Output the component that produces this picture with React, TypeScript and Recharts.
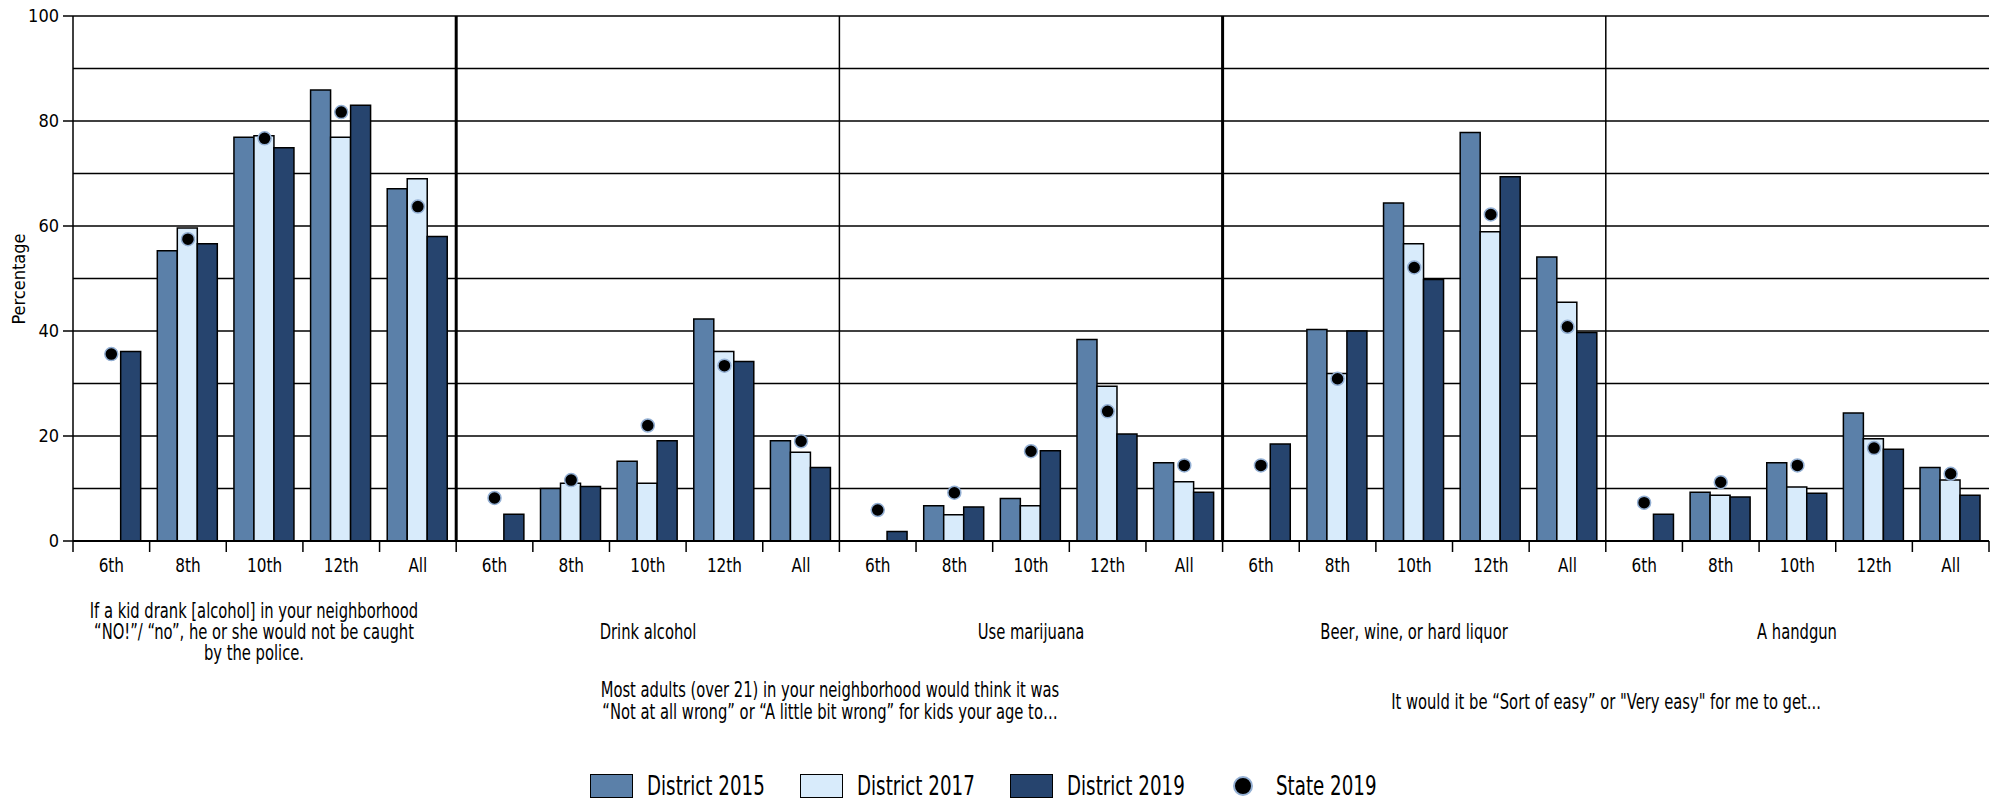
import React from "react";
import { ComposedChart, Bar, Line, XAxis, YAxis, CartesianGrid, ReferenceLine } from "recharts";

const FONT = '"Liberation Sans Narrow", "DejaVu Sans Condensed", "Arial Narrow", sans-serif';

const grades = ["6th", "8th", "10th", "12th", "All"];

// five panels of five grades each, read left to right
const district2015 = [
  null, 55.3, 76.9, 85.9, 67.1,
  null, 10.0, 15.2, 42.3, 19.1,
  null, 6.7, 8.1, 38.4, 14.9,
  null, 40.3, 64.4, 77.8, 54.1,
  null, 9.3, 14.9, 24.4, 14.0,
];
const district2017 = [
  null, 59.6, 77.2, 76.9, 69.0,
  null, 11.0, 11.0, 36.1, 16.9,
  null, 5.0, 6.7, 29.5, 11.3,
  null, 31.9, 56.6, 58.9, 45.5,
  null, 8.7, 10.3, 19.5, 11.6,
];
const district2019 = [
  36.1, 56.6, 74.9, 83.0, 58.0,
  5.1, 10.4, 19.1, 34.2, 14.0,
  1.8, 6.5, 17.2, 20.4, 9.3,
  18.5, 40.0, 49.8, 69.4, 39.7,
  5.1, 8.4, 9.1, 17.5, 8.7,
];
const state2019 = [
  35.6, 57.5, 76.7, 81.7, 63.7,
  8.2, 11.6, 22.0, 33.4, 19.0,
  5.9, 9.2, 17.1, 24.7, 14.4,
  14.4, 30.9, 52.1, 62.2, 40.8,
  7.3, 11.2, 14.4, 17.7, 12.8,
];

const yTicks = [0, 20, 40, 60, 80, 100];
const gridValues = [0, 10, 20, 30, 40, 50, 60, 70, 80, 90, 100];

const panelTitles = [
  ["If a kid drank [alcohol] in your neighborhood", "“NO!”/ “no”, he or she would not be caught", "by the police."],
  ["Drink alcohol"],
  ["Use marijuana"],
  ["Beer, wine, or hard liquor"],
  ["A handgun"],
];
const groupTitles = [
  ["Most adults (over 21) in your neighborhood would think it was", "“Not at all wrong” or “A little bit wrong” for kids your age to…"],
  ["It would it be “Sort of easy” or \"Very easy\" for me to get..."],
];

const series = [
  { key: "d2015", name: "District 2015", color: "#5b80a9" },
  { key: "d2017", name: "District 2017", color: "#d8ebfb" },
  { key: "d2019", name: "District 2019", color: "#26446e" },
];

const data = district2019.map((_, i) => ({
  id: "c" + i,
  grade: grades[i % grades.length],
  d2015: district2015[i],
  d2017: district2017[i],
  d2019: district2019[i],
  state: state2019[i],
}));

const W = 1990;
const H = 801;
const PLOT_LEFT = 73;
const PLOT_RIGHT = 1989;
const PLOT_TOP = 16;
const PLOT_BOTTOM = 541;
const BAND = (PLOT_RIGHT - PLOT_LEFT) / data.length;
const PANEL_W = BAND * grades.length;
const SQUEEZE = 0.78; // the source uses a condensed face

function GradeTick(props: any) {
  const { x, y, payload, index } = props;
  const half = payload && payload.offset ? payload.offset : BAND / 2;
  const grade = data[index] ? data[index].grade : "";
  return (
    <g>
      <line x1={x - half} x2={x - half} y1={y} y2={y + 11} stroke="#000" strokeWidth={1.5} />
      {index === data.length - 1 && (
        <line x1={x + half} x2={x + half} y1={y} y2={y + 11} stroke="#000" strokeWidth={1.5} />
      )}
      <text
        x={0}
        y={0}
        transform={`translate(${x}, ${y + 24}) scale(0.85, 1)`}
        textAnchor="middle"
        dominantBaseline="central"
        fontSize={20}
        fontFamily={FONT}
        fill="#000"
      >
        {grade}
      </text>
    </g>
  );
}

function TextBlock({ lines, cx, top, size = 21, lh = 21 }: { lines: string[]; cx: number; top: number; size?: number; lh?: number }) {
  return (
    <div
      style={{
        position: "absolute",
        left: cx,
        top,
        transform: `translateX(-50%) scaleX(${SQUEEZE})`,
        textAlign: "center",
        whiteSpace: "nowrap",
        fontFamily: FONT,
        fontSize: size,
        lineHeight: lh + "px",
        color: "#000",
      }}
    >
      {lines.map((l, i) => (
        <div key={i}>{l}</div>
      ))}
    </div>
  );
}

function LegendLabel({ left, text }: { left: number; text: string }) {
  return (
    <span
      style={{
        position: "absolute",
        left,
        top: 0,
        lineHeight: "24px",
        whiteSpace: "nowrap",
        transform: `scaleX(${SQUEEZE})`,
        transformOrigin: "0 50%",
      }}
    >
      {text}
    </span>
  );
}

export default function App() {
  return (
    <div style={{ position: "absolute", left: 0, top: 0, width: W, height: H, background: "#fff" }}>
      <ComposedChart
        width={W}
        height={H}
        data={data}
        margin={{ top: PLOT_TOP, right: W - PLOT_RIGHT, bottom: H - PLOT_BOTTOM - 30, left: 0 }}
        barGap={0}
        barCategoryGap="10%"
      >
        <CartesianGrid vertical={false} horizontalValues={gridValues} stroke="#000" strokeWidth={1.5} />
        <XAxis
          dataKey="id"
          height={30}
          interval={0}
          tickSize={0}
          tickMargin={0}
          tickLine={false}
          axisLine={{ stroke: "#000", strokeWidth: 2 }}
          tick={<GradeTick />}
        />
        <YAxis
          width={PLOT_LEFT}
          domain={[0, 100]}
          ticks={yTicks}
          interval={0}
          tickSize={10}
          tickMargin={4}
          axisLine={{ stroke: "#000", strokeWidth: 1.5 }}
          tickLine={{ stroke: "#000", strokeWidth: 1.5 }}
          tick={{ fill: "#000", fontSize: 18, fontFamily: FONT }}
        />
        {series.map((s) => (
          <Bar
            key={s.key}
            dataKey={s.key}
            name={s.name}
            fill={s.color}
            stroke="#000"
            strokeWidth={1.5}
            isAnimationActive={false}
          />
        ))}
        <ReferenceLine x="c5" position="start" stroke="#000" strokeWidth={3} />
        <ReferenceLine x="c10" position="start" stroke="#000" strokeWidth={1.5} />
        <ReferenceLine x="c15" position="start" stroke="#000" strokeWidth={3} />
        <ReferenceLine x="c20" position="start" stroke="#000" strokeWidth={1.5} />
        <Line
          dataKey="state"
          name="State 2019"
          stroke="none"
          strokeWidth={0}
          dot={{ r: 6.5, fill: "#000", stroke: "#93afd3", strokeWidth: 1.5 }}
          activeDot={false}
          isAnimationActive={false}
        />
      </ComposedChart>

      <div
        style={{
          position: "absolute",
          left: 18,
          top: (PLOT_TOP + PLOT_BOTTOM) / 2,
          transform: "translate(-50%, -50%) rotate(-90deg)",
          fontFamily: FONT,
          fontSize: 18,
          whiteSpace: "nowrap",
        }}
      >
        Percentage
      </div>

      <TextBlock lines={panelTitles[0]} cx={254} top={601} />
      {panelTitles.slice(1).map((t, i) => (
        <TextBlock key={i} lines={t} cx={PLOT_LEFT + PANEL_W * (i + 1.5)} top={622} />
      ))}
      <TextBlock lines={groupTitles[0]} cx={830} top={679} lh={22} />
      <TextBlock lines={groupTitles[1]} cx={PLOT_LEFT + PANEL_W * 4} top={692} />

      <div style={{ position: "absolute", top: 774, left: 0, width: W, height: 24, fontFamily: FONT, fontSize: 26, color: "#000" }}>
        {series.map((s, i) => (
          <React.Fragment key={s.key}>
            <div
              style={{
                position: "absolute",
                left: 590 + i * 210,
                top: 0,
                width: 43,
                height: 24,
                background: s.color,
                border: "1.5px solid #000",
                boxSizing: "border-box",
              }}
            />
            <LegendLabel left={647 + i * 210} text={s.name} />
          </React.Fragment>
        ))}
        <div
          style={{
            position: "absolute",
            left: 1233,
            top: 2,
            width: 20,
            height: 20,
            borderRadius: "50%",
            background: "#000",
            border: "2px solid #93afd3",
            boxSizing: "border-box",
          }}
        />
        <LegendLabel left={1276} text="State 2019" />
      </div>
    </div>
  );
}
